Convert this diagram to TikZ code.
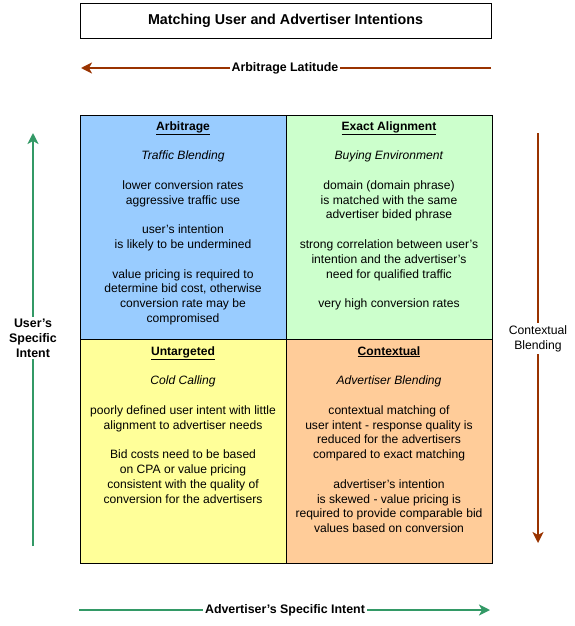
\documentclass[tikz,border=0pt]{standalone}
\usepackage{fontspec}
\setmainfont{Liberation Sans}
\usetikzlibrary{arrows.meta}
\definecolor{cblue}{HTML}{99CCFF}
\definecolor{cgreen}{HTML}{CCFFCC}
\definecolor{cyellow}{HTML}{FFFF99}
\definecolor{corange}{HTML}{FFCC99}
\definecolor{agreen}{HTML}{339966}
\definecolor{abrown}{HTML}{993300}
\begin{document}
\begin{tikzpicture}[x=1pt,y=-1pt,
  cell/.style={draw=black, line width=0.8pt},
  celltext/.style={anchor=north, inner sep=0pt, align=center, font=\fontsize{12.1}{14.8}\selectfont},
  axislabel/.style={fill=white, inner sep=2pt, align=center, font=\fontsize{12.2}{14.8}\selectfont},
  boldlabel/.style={axislabel, font=\fontsize{12.4}{14.8}\selectfont\bfseries},
  brownarrow/.style={draw=abrown, line width=2pt, -{Stealth[length=11pt,width=11pt,inset=3pt]}},
  greenarrow/.style={draw=agreen, line width=2pt, -{Stealth[length=11pt,width=11pt,inset=3pt]}}
]
\useasboundingbox (0,0) rectangle (575,626);
% title
\node[draw=black, line width=0.8pt, minimum width=411pt, minimum height=35pt, inner sep=0pt,
  font=\fontsize{14.3}{16}\selectfont\bfseries] (title) at (285.5,20.5) {Matching User and Advertiser Intentions};
% cells
\path[cell, fill=cblue] (80,115) rectangle (286,339);
\path[cell, fill=cgreen] (286,115) rectangle (492,339);
\path[cell, fill=cyellow] (80,339) rectangle (286,563);
\path[cell, fill=corange] (286,339) rectangle (492,563);
% cell texts
\node[celltext] (arb) at (183,119.6) {\strut\underline{\textbf{Arbitrage}}\\ \\
\textit{Traffic Blending}\\ \\
lower conversion rates\\ aggressive traffic use\\ \\
user's intention\\ is likely to be undermined\\ \\
value pricing is required to\\ determine bid cost, otherwise\\ conversion rate may be\\ compromised};
\node[celltext] (exa) at (389,119.6) {\strut\underline{\textbf{Exact Alignment}}\\ \\
\textit{Buying Environment}\\ \\
domain (domain phrase)\\ is matched with the same\\ advertiser bided phrase\\ \\
strong correlation between user's\\ intention and the advertiser's\\ need for qualified traffic\\ \\
very high conversion rates};
\node[celltext] (unt) at (183,344.6) {\strut\underline{\textbf{Untargeted}}\\ \\
\textit{Cold Calling}\\ \\
poorly defined user intent with little\\ alignment to advertiser needs\\ \\
Bid costs need to be based\\ on CPA or value pricing\\ consistent with the quality of\\ conversion for the advertisers};
\node[celltext] (con) at (389,344.6) {\strut\underline{\textbf{Contextual}}\\ \\
\textit{Advertiser Blending}\\ \\
contextual matching of\\ user intent - response quality is\\ reduced for the advertisers\\ compared to exact matching\\ \\
advertiser's intention\\ is skewed - value pricing is\\ required to provide comparable bid\\ values based on conversion};
% arrows
\coordinate (latR) at (491,68);
\coordinate (latL) at (81,68);
\draw[brownarrow] (latR) -- (latL);
\node[boldlabel] (lat) at (285,68) {Arbitrage Latitude};
\coordinate (usB) at (33,546);
\coordinate (usT) at (33,133);
\draw[greenarrow] (usB) -- (usT);
\node[boldlabel] (us) at (33,338) {User's\\Specific\\Intent};
\coordinate (cbT) at (538,133);
\coordinate (cbB) at (538,543);
\draw[brownarrow] (cbT) -- (cbB);
\node[axislabel] (cb) at (538,338.5) {Contextual\\Blending};
\coordinate (adL) at (79,610);
\coordinate (adR) at (490,610);
\draw[greenarrow] (adL) -- (adR);
\node[boldlabel] (ad) at (285,610) {Advertiser's Specific Intent};
\end{tikzpicture}
\end{document}
